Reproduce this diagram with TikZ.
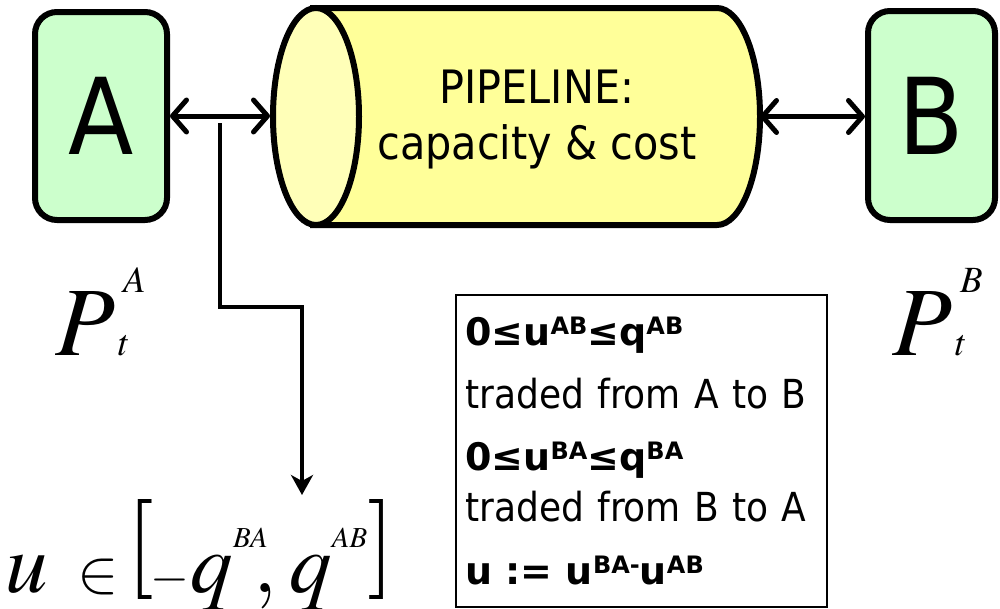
\documentclass[tikz,border=0pt]{standalone}
\usepackage{mathptmx}
\usepackage[no-math]{fontspec}
\setmainfont{DejaVu Sans Condensed}
\newfontfamily\widebold{DejaVu Sans}
\usepackage{graphicx}
\usetikzlibrary{shapes.geometric, arrows.meta, positioning, calc}

\definecolor{marketgreen}{HTML}{CCFFCC}
\definecolor{pipeyellow}{HTML}{FFFF99}
\definecolor{pipeface}{HTML}{FFFFB8}

% small raised letters
\newcommand{\bsup}[1]{\raisebox{11pt}{\fontsize{24}{24}\selectfont #1}}
\newcommand{\msup}[1]{\raisebox{45pt}{\fontsize{29}{29}\selectfont$#1$}}
\newcommand{\price}[1]{$P$\kern3pt\rlap{\kern5pt\raisebox{63pt}{\fontsize{37}{37}\selectfont$#1$}}{\fontsize{37}{37}\selectfont$t$}}
\newcommand{\bracketL}{\raisebox{18pt}{\fontsize{100}{100}\selectfont$[$}}
\newcommand{\bracketR}{\raisebox{18pt}{\fontsize{100}{100}\selectfont$]$}}
\newcommand{\rulefont}{\widebold\bfseries\fontsize{38}{57}\selectfont}

\begin{document}
\begin{tikzpicture}[x=1pt, y=-1pt,
    market/.style={draw, line width=6pt, rounded corners=22pt, fill=marketgreen, font=\fontsize{106}{106}\selectfont},
    flow/.style={line width=5pt, {Straight Barb[length=14pt,width=32pt,round]}-{Straight Barb[length=14pt,width=32pt,round]}},
    formula/.style={anchor=base west, inner sep=0pt}]
    \useasboundingbox (0,0) rectangle (1000,608);

    % Markets
    \node[market, minimum width=132pt, minimum height=208pt] (A) at (101,116) {A};
    \node[market, minimum width=127pt, minimum height=209pt] (B) at (931.5,115.5) {B};

    % Pipeline
    \node[inner sep=0pt, outer sep=3pt, minimum width=484pt, minimum height=217pt] (pipe) at (515,116.5) {};
    \filldraw[line width=6pt, fill=pipeyellow]
        ($(pipe.north west)+(43,3)$) -- ($(pipe.north east)+(-43,3)$)
        arc (90:-90:43pt and 108.5pt) -- ($(pipe.south west)+(43,-3)$) -- cycle;
    \filldraw[line width=6pt, fill=pipeface] ($(pipe.west)+(46,0)$) ellipse (43pt and 108.5pt);
    \node[align=center, font=\fontsize{46}{56}\selectfont] (pipetext) at (537,120) {PIPELINE:\\capacity \& cost};

    \draw[flow] (A.east) -- (A.east -| pipe.west);
    \draw[flow] (pipe.east) -- (pipe.east -| B.west);

    % Net flow
    \coordinate (tap) at (220,123);
    \coordinate (bend) at (302,307);
    \coordinate (drop) at (302,495);
    \draw[line width=3.5pt, -{Stealth[length=20pt,width=22pt,inset=6pt]}] (tap) |- (bend) -- (drop);

    % Prices
    \node[formula, font=\fontsize{98}{98}\selectfont] (pA) at (55,355) {\price{A}};
    \node[formula, font=\fontsize{98}{98}\selectfont] (pB) at (892,355) {\price{B}};
    \node[formula, font=\fontsize{85}{85}\selectfont] (uset) at (5,592)
        {$u$\kern30pt{\fontsize{62}{62}\selectfont$\in$}\kern8pt\bracketL\kern-4pt{\fontsize{50}{50}\selectfont$-$}\kern1pt$q$\msup{BA}\kern-14pt$,$\kern12pt$q$\msup{AB}\kern0pt\bracketR};

    % Trading rules
    \node[draw, line width=1.5pt, anchor=north west, minimum width=371pt, minimum height=312pt,
          text width=352pt, inner sep=8pt, align=left, font=\fontsize{40}{57}\selectfont] (rules) at (455,294) {%
        {\rulefont 0≤u\bsup{AB}≤q\bsup{AB}}\\[6pt]
        traded from A to B\\[5pt]
        {\rulefont 0≤u\bsup{BA}≤q\bsup{BA}}\\[-6pt]
        traded from B to A\\[6pt]
        {\rulefont u := u\bsup{BA-}u\bsup{AB}}};
\end{tikzpicture}
\end{document}
